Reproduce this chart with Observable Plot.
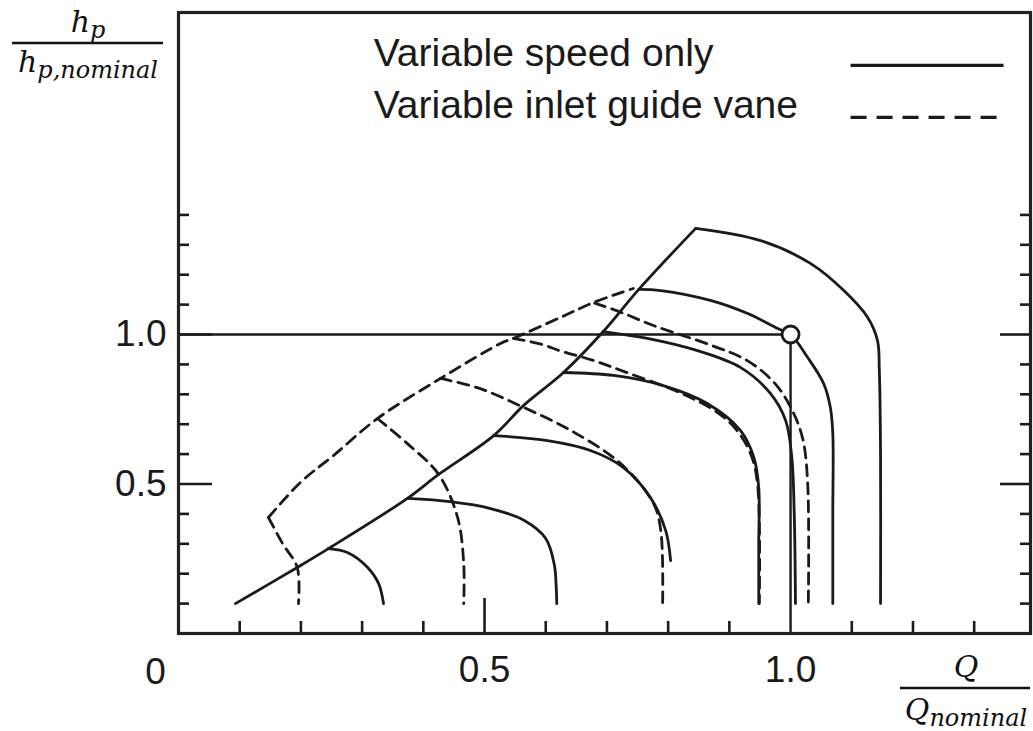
<!DOCTYPE html>
<html>
<head>
<meta charset="utf-8">
<script src="https://cdn.jsdelivr.net/npm/d3@7"></script>
<script src="https://cdn.jsdelivr.net/npm/@observablehq/plot@0.6"></script>
<style>
  html, body { margin: 0; padding: 0; background: #fff; }
  #chart svg { display: block; }
</style>
</head>
<body>
<div id="chart"></div>
<script>
// ---------- data (Q/Qnominal, hp/hp,nominal) ----------
// variable-speed surge line (solid)
const surgeSpeed = [[0.093,0.100],[0.194,0.221],[0.245,0.284],[0.374,0.452],[0.425,0.532],[0.515,0.662],[0.564,0.763],[0.629,0.873],[0.694,1.010],[0.752,1.151],[0.845,1.355]];
// constant-speed curves (solid), highest to lowest speed
const speed1 = [[0.845,1.355],[0.951,1.314],[1.033,1.237],[1.087,1.147],[1.126,1.057],[1.142,0.980],[1.145,0.880],[1.147,0.600],[1.147,0.100]];
const speed2 = [[0.752,1.151],[0.788,1.147],[0.869,1.114],[0.930,1.070],[0.979,1.020],[1.000,1.000],[1.028,0.923],[1.054,0.836],[1.065,0.756],[1.069,0.669],[1.069,0.400],[1.069,0.100]];
const speed3 = [[0.694,1.010],[0.766,0.987],[0.848,0.946],[0.918,0.890],[0.967,0.803],[0.992,0.712],[1.002,0.589],[1.006,0.400],[1.008,0.100]];
const speed4 = [[0.629,0.873],[0.711,0.863],[0.792,0.829],[0.864,0.769],[0.918,0.679],[0.940,0.589],[0.948,0.488],[0.948,0.300],[0.948,0.100]];
const speed5 = [[0.515,0.662],[0.603,0.645],[0.673,0.612],[0.727,0.555],[0.771,0.455],[0.796,0.344],[0.804,0.244]];
const speed6 = [[0.374,0.452],[0.444,0.441],[0.510,0.418],[0.565,0.378],[0.600,0.318],[0.614,0.230],[0.617,0.160],[0.618,0.100]];
const speed7 = [[0.245,0.284],[0.276,0.271],[0.309,0.221],[0.327,0.167],[0.335,0.100]];
// inlet-guide-vane surge line (dashed)
const surgeVane = [[0.147,0.388],[0.199,0.505],[0.253,0.595],[0.325,0.719],[0.428,0.853],[0.526,0.970],[0.547,0.987],[0.624,1.057],[0.678,1.107],[0.743,1.154]];
// constant vane-angle curves (dashed), lowest to highest
const vane1 = [[0.147,0.388],[0.170,0.301],[0.194,0.221],[0.196,0.100]];
const vane2 = [[0.325,0.719],[0.374,0.635],[0.425,0.532],[0.456,0.388],[0.466,0.234],[0.466,0.100]];
const vane3 = [[0.428,0.853],[0.493,0.819],[0.564,0.756],[0.641,0.679],[0.722,0.569],[0.776,0.435],[0.788,0.344],[0.791,0.100]];
const vane4 = [[0.547,0.987],[0.592,0.968],[0.624,0.945],[0.678,0.913],[0.736,0.870],[0.820,0.805],[0.880,0.740],[0.910,0.685],[0.935,0.600],[0.946,0.500],[0.949,0.100]];
const vane5 = [[0.680,1.105],[0.722,1.075],[0.776,1.030],[0.869,0.965],[0.930,0.912],[0.975,0.835],[1.003,0.745],[1.020,0.650],[1.028,0.500],[1.029,0.100]];
// nominal operating point
const nominalPoint = [{q: 1.0, h: 1.0}];
// ticks and labels
const xMinorTicks = [0.1,0.2,0.3,0.4,0.6,0.7,0.8,0.9,1.1,1.2,1.3];
const xMajorTicks = [0.5];
const xTickLabels = [0.5, 1.0];
const originLabel = ["0"];
const yMinorTicks = [0.1,0.2,0.3,0.4,0.6,0.7,0.8,0.9,1.1,1.2,1.3,1.4];
const yMajorTicks = [0.5, 1.0];
const yTickLabels = [0.5, 1.0];
const legendLabels = ["Variable speed only", "Variable inlet guide vane"];

// ---------- build tables ----------
const toRows = (curves) => curves.flatMap(([id, pts]) => pts.map(([x, y]) => ({id, x, y})));
const solidRows = toRows([["surge", surgeSpeed], ["s1", speed1], ["s2", speed2], ["s3", speed3], ["s4", speed4], ["s5", speed5], ["s6", speed6], ["s7", speed7]]);
const dashedRows = toRows([["surge", surgeVane], ["v1", vane1], ["v2", vane2], ["v3", vane3], ["v4", vane4], ["v5", vane5]]);

const INK = "#1a1a1a";
const W = 2.8;
const DASH = "11,7";

const xDomain = [0, 1.392];
const yDomain = [0, 2.077];
const legendX = 0.319, legendLineX1 = 1.098, legendLineX2 = 1.348;
const legendTextY = (d, i) => 1.94 - i * 0.174;
const legendLineY = (i) => 1.90 - i * 0.174;

const chart = Plot.plot({
  width: 1033,
  height: 731,
  marginLeft: 178,
  marginRight: 3,
  marginTop: 12,
  marginBottom: 98,
  x: {domain: xDomain, axis: null, label: null},
  y: {domain: yDomain, axis: null, label: null},
  style: {fontFamily: "'Liberation Sans', Arial, sans-serif", color: INK, background: "#fff"},
  marks: [
    // nominal guide lines
    Plot.ruleY(nominalPoint, {y: "h", x1: 0, x2: "q", stroke: INK, strokeWidth: 2.4}),
    Plot.ruleX(nominalPoint, {x: "q", y1: 0, y2: "h", stroke: INK, strokeWidth: 2.4}),
    // curves
    Plot.line(solidRows, {x: "x", y: "y", z: "id", curve: "catmull-rom", stroke: INK, strokeWidth: W, strokeLinejoin: "round", strokeLinecap: "round"}),
    Plot.line(dashedRows, {x: "x", y: "y", z: "id", curve: "catmull-rom", stroke: INK, strokeWidth: W, strokeDasharray: DASH}),
    Plot.dot(nominalPoint, {x: "q", y: "h", r: 8.5, fill: "#fff", stroke: INK, strokeWidth: 2.8}),
    // inward ticks
    Plot.axisY({ticks: yMinorTicks, anchor: "left", tickSize: -11, tickFormat: () => "", strokeWidth: 2.6, label: null}),
    Plot.axisY({ticks: yMajorTicks, anchor: "left", tickSize: -34, tickFormat: () => "", strokeWidth: 2.6, label: null}),
    Plot.axisY({ticks: yMinorTicks, anchor: "right", tickSize: -11, tickFormat: () => "", strokeWidth: 2.6, label: null}),
    Plot.axisY({ticks: yMajorTicks, anchor: "right", tickSize: -31, tickFormat: () => "", strokeWidth: 2.6, label: null}),
    Plot.axisX({ticks: xMinorTicks, anchor: "bottom", tickSize: -12, tickFormat: () => "", strokeWidth: 2.6, label: null}),
    Plot.axisX({ticks: xMajorTicks, anchor: "bottom", tickSize: -35, tickFormat: () => "", strokeWidth: 2.6, label: null}),
    // tick labels
    Plot.axisY({ticks: yTickLabels, anchor: "left", tickSize: 0, tickPadding: 12, tickFormat: d => d.toFixed(1), fontSize: 37, label: null}),
    Plot.axisX({ticks: xTickLabels, anchor: "bottom", tickSize: 0, tickPadding: 22, tickFormat: d => d.toFixed(1), fontSize: 37, label: null}),
    Plot.text(originLabel, {x: 0, text: d => d, frameAnchor: "bottom", dx: -23, dy: 39, fontSize: 37, lineAnchor: "middle", fill: INK}),
    // frame
    Plot.frame({stroke: "#222", strokeWidth: 3.2}),
    // legend
    Plot.text(legendLabels, {x: legendX, y: legendTextY, text: d => d, textAnchor: "start", lineAnchor: "middle", fontSize: 39, fill: INK}),
    Plot.link([legendLabels[0]], {x1: legendLineX1, x2: legendLineX2, y1: () => legendLineY(0), y2: () => legendLineY(0), stroke: INK, strokeWidth: 3.2}),
    Plot.link([legendLabels[1]], {x1: legendLineX1, x2: legendLineX2, y1: () => legendLineY(1), y2: () => legendLineY(1), stroke: INK, strokeWidth: 3.2, strokeDasharray: "16,10"})
  ]
});

document.getElementById("chart").appendChild(chart);

// ---------- fraction-style axis titles ----------
const svg = d3.select(chart);
const g = svg.append("g")
  .attr("font-family", "'DejaVu Serif', 'Liberation Serif', serif")
  .attr("font-style", "italic")
  .attr("fill", "#111");

function fraction({cx, x1, x2, lineY, numBase, denBase, num, den}) {
  const t1 = g.append("text").attr("x", cx).attr("y", numBase).attr("text-anchor", "middle");
  t1.append("tspan").attr("font-size", 30).text(num[0]);
  if (num[1]) t1.append("tspan").attr("font-size", 24).attr("dy", 6).text(num[1]);
  g.append("line").attr("x1", x1).attr("x2", x2).attr("y1", lineY).attr("y2", lineY)
    .attr("stroke", "#111").attr("stroke-width", 2.4);
  const t2 = g.append("text").attr("x", cx).attr("y", denBase).attr("text-anchor", "middle");
  t2.append("tspan").attr("font-size", 30).text(den[0]);
  if (den[1]) t2.append("tspan").attr("font-size", 24).attr("dy", 6).text(den[1]);
}

fraction({cx: 88, x1: 12, x2: 163, lineY: 43, numBase: 32, denBase: 72, num: ["h", "p"], den: ["h", "p,nominal"]});
fraction({cx: 966, x1: 900, x2: 1030, lineY: 688, numBase: 677, denBase: 720, num: ["Q", ""], den: ["Q", "nominal"]});
</script>
</body>
</html>
